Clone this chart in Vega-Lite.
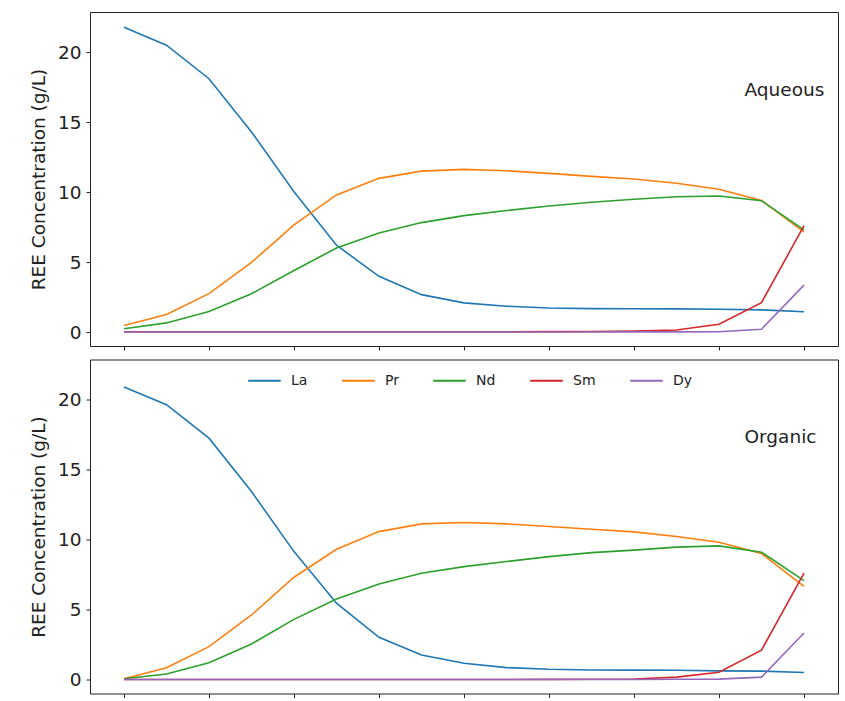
{
  "$schema": "https://vega.github.io/schema/vega-lite/v6.json",
  "background": "white",
  "padding": {"left": 28, "top": 11, "right": 7, "bottom": 4},
  "spacing": 7.5,
  "config": {
    "font": "DejaVu Sans",
    "view": {"stroke": "#222", "strokeWidth": 1},
    "axis": {"grid": false, "domain": false, "tickColor": "#222", "tickSize": 4, "labelColor": "#222", "titleColor": "#222", "labelFont": "DejaVu Sans", "titleFont": "DejaVu Sans", "labelFontSize": 18.5, "titleFontSize": 18.5, "titleFontWeight": "normal", "labelPadding": 5, "titlePadding": 9}
  },
  "datasets": {
    "ree": [
      {"phase": "Aqueous", "stage": 0, "La": 21.78, "Pr": 0.46, "Nd": 0.23, "Sm": 0.02, "Dy": 0.0},
      {"phase": "Aqueous", "stage": 1, "La": 20.5, "Pr": 1.25, "Nd": 0.65, "Sm": 0.02, "Dy": 0.0},
      {"phase": "Aqueous", "stage": 2, "La": 18.1, "Pr": 2.74, "Nd": 1.46, "Sm": 0.02, "Dy": 0.0},
      {"phase": "Aqueous", "stage": 3, "La": 14.3, "Pr": 4.97, "Nd": 2.74, "Sm": 0.02, "Dy": 0.0},
      {"phase": "Aqueous", "stage": 4, "La": 10.03, "Pr": 7.66, "Nd": 4.4, "Sm": 0.02, "Dy": 0.0},
      {"phase": "Aqueous", "stage": 5, "La": 6.2, "Pr": 9.8, "Nd": 6.0, "Sm": 0.02, "Dy": 0.0},
      {"phase": "Aqueous", "stage": 6, "La": 3.98, "Pr": 10.98, "Nd": 7.07, "Sm": 0.02, "Dy": 0.0},
      {"phase": "Aqueous", "stage": 7, "La": 2.67, "Pr": 11.5, "Nd": 7.82, "Sm": 0.02, "Dy": 0.0},
      {"phase": "Aqueous", "stage": 8, "La": 2.08, "Pr": 11.62, "Nd": 8.32, "Sm": 0.02, "Dy": 0.0},
      {"phase": "Aqueous", "stage": 9, "La": 1.84, "Pr": 11.52, "Nd": 8.68, "Sm": 0.02, "Dy": 0.0},
      {"phase": "Aqueous", "stage": 10, "La": 1.72, "Pr": 11.34, "Nd": 9.0, "Sm": 0.03, "Dy": 0.0},
      {"phase": "Aqueous", "stage": 11, "La": 1.67, "Pr": 11.12, "Nd": 9.27, "Sm": 0.04, "Dy": 0.0},
      {"phase": "Aqueous", "stage": 12, "La": 1.66, "Pr": 10.93, "Nd": 9.49, "Sm": 0.06, "Dy": 0.01},
      {"phase": "Aqueous", "stage": 13, "La": 1.65, "Pr": 10.63, "Nd": 9.67, "Sm": 0.14, "Dy": 0.01},
      {"phase": "Aqueous", "stage": 14, "La": 1.63, "Pr": 10.2, "Nd": 9.72, "Sm": 0.55, "Dy": 0.02},
      {"phase": "Aqueous", "stage": 15, "La": 1.58, "Pr": 9.4, "Nd": 9.38, "Sm": 2.1, "Dy": 0.2},
      {"phase": "Aqueous", "stage": 16, "La": 1.45, "Pr": 7.15, "Nd": 7.3, "Sm": 7.6, "Dy": 3.35},
      {"phase": "Organic", "stage": 0, "La": 20.9, "Pr": 0.05, "Nd": 0.05, "Sm": 0.0, "Dy": 0.0},
      {"phase": "Organic", "stage": 1, "La": 19.64, "Pr": 0.84, "Nd": 0.39, "Sm": 0.0, "Dy": 0.0},
      {"phase": "Organic", "stage": 2, "La": 17.25, "Pr": 2.35, "Nd": 1.2, "Sm": 0.0, "Dy": 0.0},
      {"phase": "Organic", "stage": 3, "La": 13.43, "Pr": 4.61, "Nd": 2.54, "Sm": 0.0, "Dy": 0.0},
      {"phase": "Organic", "stage": 4, "La": 9.14, "Pr": 7.31, "Nd": 4.3, "Sm": 0.0, "Dy": 0.0},
      {"phase": "Organic", "stage": 5, "La": 5.45, "Pr": 9.31, "Nd": 5.75, "Sm": 0.0, "Dy": 0.0},
      {"phase": "Organic", "stage": 6, "La": 3.02, "Pr": 10.57, "Nd": 6.83, "Sm": 0.0, "Dy": 0.0},
      {"phase": "Organic", "stage": 7, "La": 1.75, "Pr": 11.12, "Nd": 7.6, "Sm": 0.0, "Dy": 0.0},
      {"phase": "Organic", "stage": 8, "La": 1.16, "Pr": 11.22, "Nd": 8.07, "Sm": 0.0, "Dy": 0.0},
      {"phase": "Organic", "stage": 9, "La": 0.85, "Pr": 11.12, "Nd": 8.43, "Sm": 0.0, "Dy": 0.0},
      {"phase": "Organic", "stage": 10, "La": 0.73, "Pr": 10.93, "Nd": 8.78, "Sm": 0.01, "Dy": 0.0},
      {"phase": "Organic", "stage": 11, "La": 0.68, "Pr": 10.74, "Nd": 9.07, "Sm": 0.02, "Dy": 0.0},
      {"phase": "Organic", "stage": 12, "La": 0.67, "Pr": 10.55, "Nd": 9.25, "Sm": 0.04, "Dy": 0.0},
      {"phase": "Organic", "stage": 13, "La": 0.66, "Pr": 10.22, "Nd": 9.46, "Sm": 0.17, "Dy": 0.02},
      {"phase": "Organic", "stage": 14, "La": 0.62, "Pr": 9.81, "Nd": 9.55, "Sm": 0.52, "Dy": 0.03},
      {"phase": "Organic", "stage": 15, "La": 0.6, "Pr": 9.0, "Nd": 9.1, "Sm": 2.1, "Dy": 0.17},
      {"phase": "Organic", "stage": 16, "La": 0.5, "Pr": 6.65, "Nd": 7.07, "Sm": 7.6, "Dy": 3.32}
    ],
    "labels": [
      {"phase": "Aqueous"},
      {"phase": "Organic"}
    ]
  },
  "resolve": {"legend": {"color": "independent"}},
  "vconcat": [
    {
      "width": 748,
      "height": 334,
      "layer": [
        {
          "data": {"name": "ree"},
          "transform": [{"filter": "datum.phase === 'Aqueous'"}, {"fold": ["La", "Pr", "Nd", "Sm", "Dy"], "as": ["element", "conc"]}],
          "mark": {"type": "line", "strokeWidth": 1.6},
          "encoding": {
            "x": {"field": "stage", "type": "quantitative", "scale": {"domain": [-0.8, 16.8], "nice": false, "zero": false}, "axis": {"values": [0, 2, 4, 6, 8, 10, 12, 14, 16], "labels": false, "title": null}},
            "y": {"field": "conc", "type": "quantitative", "scale": {"domain": [-1.0, 22.87], "nice": false, "zero": false}, "axis": {"values": [0, 5, 10, 15, 20], "title": "REE Concentration (g/L)"}},
            "color": {"field": "element", "type": "nominal", "scale": {"domain": ["La", "Pr", "Nd", "Sm", "Dy"], "range": ["#1f77b4", "#ff7f0e", "#2ca02c", "#d62728", "#9467bd"]}, "legend": null},
            "order": {"field": "stage", "type": "quantitative"}
          }
        },
        {
          "data": {"name": "labels"},
          "transform": [{"filter": "datum.phase === 'Aqueous'"}],
          "mark": {"type": "text", "align": "left", "baseline": "middle", "fontSize": 18.5, "color": "#222", "font": "DejaVu Sans"},
          "encoding": {
            "x": {"datum": 14.6, "type": "quantitative"},
            "y": {"datum": 17.33, "type": "quantitative"},
            "text": {"field": "phase"}
          }
        }
      ]
    },
    {
      "width": 748,
      "height": 334,
      "layer": [
        {
          "data": {"name": "ree"},
          "transform": [{"filter": "datum.phase === 'Organic'"}, {"fold": ["La", "Pr", "Nd", "Sm", "Dy"], "as": ["element", "conc"]}],
          "mark": {"type": "line", "strokeWidth": 1.6},
          "encoding": {
            "x": {"field": "stage", "type": "quantitative", "scale": {"domain": [-0.8, 16.8], "nice": false, "zero": false}, "axis": {"values": [0, 2, 4, 6, 8, 10, 12, 14, 16], "labels": false, "title": null}},
            "y": {"field": "conc", "type": "quantitative", "scale": {"domain": [-1.0, 22.87], "nice": false, "zero": false}, "axis": {"values": [0, 5, 10, 15, 20], "title": "REE Concentration (g/L)"}},
            "color": {"field": "element", "type": "nominal", "scale": {"domain": ["La", "Pr", "Nd", "Sm", "Dy"], "range": ["#1f77b4", "#ff7f0e", "#2ca02c", "#d62728", "#9467bd"]}, "legend": {"orient": "none", "legendX": 157, "legendY": 3.5, "direction": "horizontal", "columns": 5, "title": null, "symbolType": "stroke", "symbolSize": 1063, "symbolStrokeWidth": 2, "labelFontSize": 14, "labelFont": "DejaVu Sans", "labelColor": "#222", "labelOffset": 9, "columnPadding": 30}},
            "order": {"field": "stage", "type": "quantitative"}
          }
        },
        {
          "data": {"name": "labels"},
          "transform": [{"filter": "datum.phase === 'Organic'"}],
          "mark": {"type": "text", "align": "left", "baseline": "middle", "fontSize": 18.5, "color": "#222", "font": "DejaVu Sans"},
          "encoding": {
            "x": {"datum": 14.6, "type": "quantitative"},
            "y": {"datum": 17.36, "type": "quantitative"},
            "text": {"field": "phase"}
          }
        }
      ]
    }
  ]
}
